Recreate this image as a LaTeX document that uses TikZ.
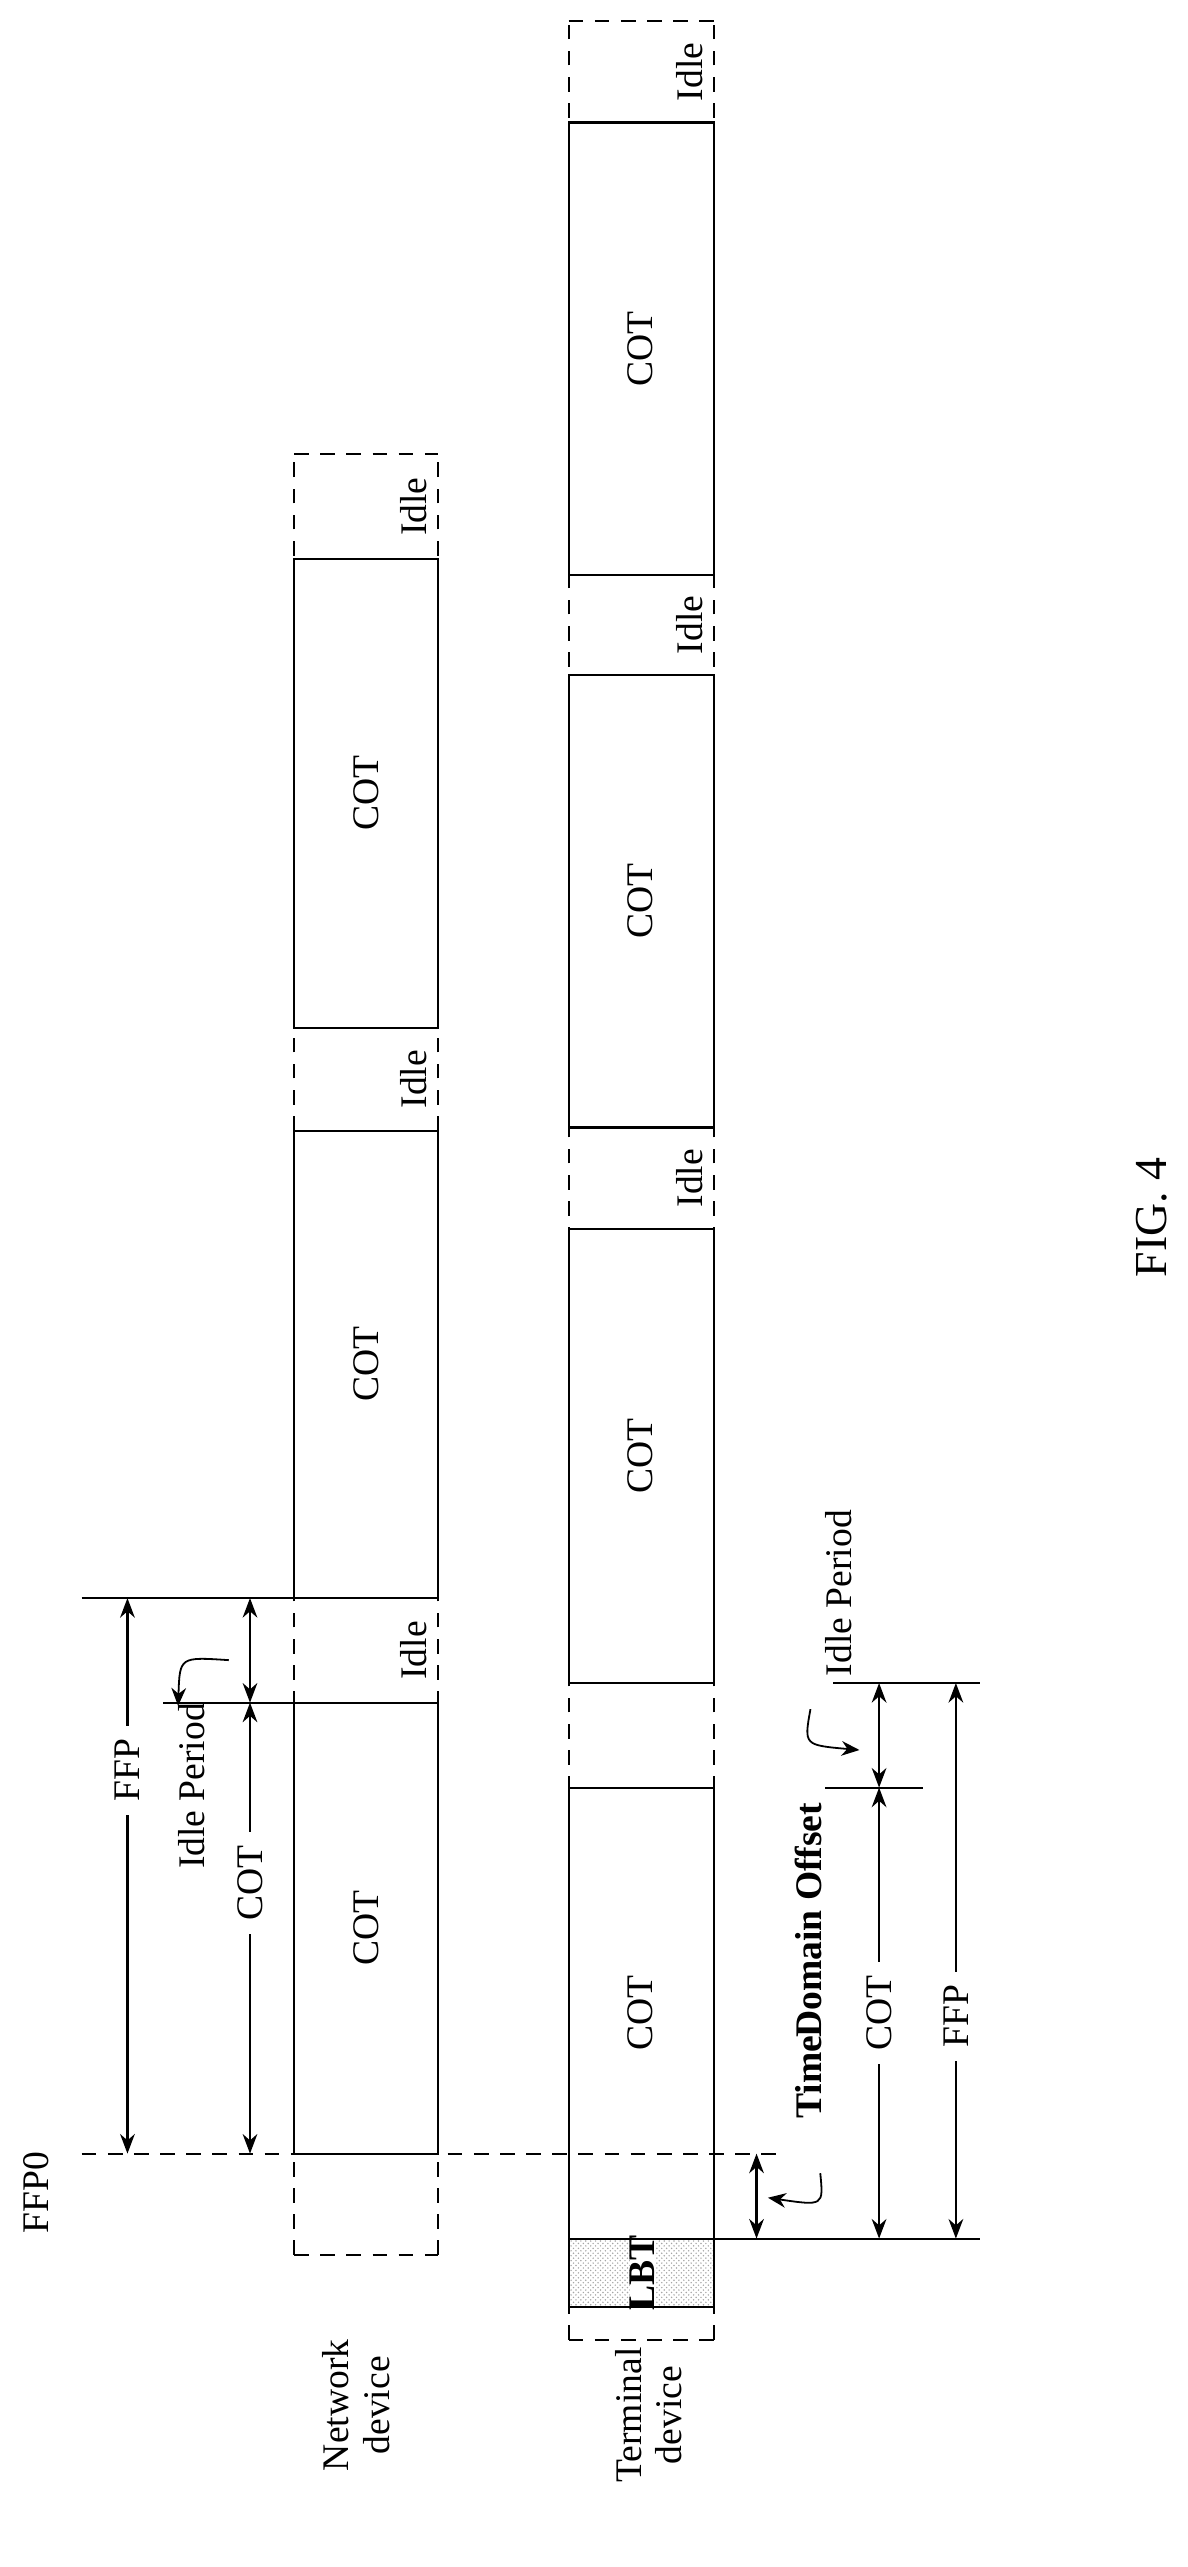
\documentclass[tikz,border=0pt]{standalone}
\usepackage{fontspec}
\setmainfont{Liberation Serif}
\usetikzlibrary{arrows.meta,patterns}
\begin{document}
\begin{tikzpicture}[x=1pt,y=-1pt,line width=1.3pt,
  lbl/.style={rotate=90,font=\fontsize{23}{25}\selectfont,inner sep=1pt},
  gap/.style={fill=white,inner xsep=8pt,inner ysep=1pt},
  dim/.style={{Stealth[length=12pt,width=9pt]}-{Stealth[length=12pt,width=9pt]}},
  ds/.style={dashed,dash pattern=on 9pt off 7pt},
  cur/.style={-{Stealth[length=11pt,width=9pt]},line width=1.1pt}]
\useasboundingbox (0,0) rectangle (727,1571);
% ---- Network device column x 180..268
\draw[ds] (180,1380) -- (180,278) (268,1380) -- (268,278);
\draw[ds] (180,278) -- (268,278) (180,1380) -- (268,1380);
\foreach \a/\b in {342/629,692/978,1042/1318}{
  \draw[fill=white] (180,\a) rectangle (268,\b);
  \node[lbl] at (224,{(\a+\b)/2}) {COT};}
\foreach \c in {310,660.5,1010}{\node[lbl] at (253,\c) {Idle};}
% ---- Terminal device column x 348..437
\draw[ds] (348,1432) -- (348,13) (437,1432) -- (437,13);
\draw[ds] (348,13) -- (437,13) (348,1432) -- (437,1432);
\foreach \a/\b in {75/352,413/690,752/1030,1094/1370}{
  \draw[fill=white] (348,\a) rectangle (437,\b);
  \node[lbl] at (392,{(\a+\b)/2}) {COT};}
\foreach \c in {44,382.5,721}{\node[lbl] at (422,\c) {Idle};}
\draw[pattern=crosshatch dots,pattern color=gray!70] (348,1370) rectangle (437,1412);
\node[lbl,font=\fontsize{23}{25}\selectfont\bfseries,fill=white,inner xsep=1pt,inner ysep=0pt] (lbt) at (393,1391) {LBT};
\draw (348,1370) rectangle (437,1412);
% ---- reference lines
\draw[ds] (50,1318) -- (480,1318);
\node[lbl,anchor=center] (ffp0) at (22,1342) {FFP0};
\draw (50,978) -- (268,978);
\draw (100,1042) -- (268,1042);
\draw (437,1370) -- (600,1370);
\draw (510,1030) -- (600,1030);
\draw (505,1094) -- (565,1094);
% ---- network dims
\coordinate (nf1) at (78,978); \coordinate (nf2) at (78,1318);
\draw[dim] (nf1) -- (nf2) node[lbl,gap,pos=0.31] {FFP};
\coordinate (nc1) at (153,1042); \coordinate (nc2) at (153,1318);
\draw[dim] (nc1) -- (nc2) node[lbl,gap,pos=0.4] {COT};
\coordinate (ni1) at (153,978); \coordinate (ni2) at (153,1042);
\draw[dim] (ni1) -- (ni2);
\node[lbl] (nip) at (117,1093) {Idle Period};
\coordinate (na1) at (140,1016); \coordinate (na2) at (109,1044);
\draw[cur] (na1) .. controls (110,1014) .. (na2);
% ---- terminal dims
\coordinate (tc1) at (538,1094); \coordinate (tc2) at (538,1370);
\draw[dim] (tc1) -- (tc2) node[lbl,gap,pos=0.5] {COT};
\coordinate (ti1) at (538,1030); \coordinate (ti2) at (538,1094);
\draw[dim] (ti1) -- (ti2);
\coordinate (tf1) at (585,1030); \coordinate (tf2) at (585,1370);
\draw[dim] (tf1) -- (tf2) node[lbl,gap,pos=0.6] {FFP};
\coordinate (to1) at (463,1318); \coordinate (to2) at (463,1370);
\draw[dim] (to1) -- (to2);
\node[lbl,font=\fontsize{23}{25}\selectfont\bfseries] (tdo) at (495,1200) {Time\kern-1pt Domain Offset};
\coordinate (tb1) at (502,1330); \coordinate (tb2) at (470,1345);
\draw[cur] (tb1) .. controls (504,1350) .. (tb2);
\node[lbl] (tip) at (513,975) {Idle Period};
\coordinate (tp1) at (496,1046); \coordinate (tp2) at (526,1071);
\draw[cur] (tp1) .. controls (492,1068) .. (tp2);
% ---- labels
\node[lbl,align=center] (nd) at (218,1472) {Network\\device};
\node[lbl,align=center] (td) at (397,1478) {Terminal\\device};
\node[lbl,font=\fontsize{28}{30}\selectfont] (fig) at (705,745) {FIG. 4};
\end{tikzpicture}
\end{document}
